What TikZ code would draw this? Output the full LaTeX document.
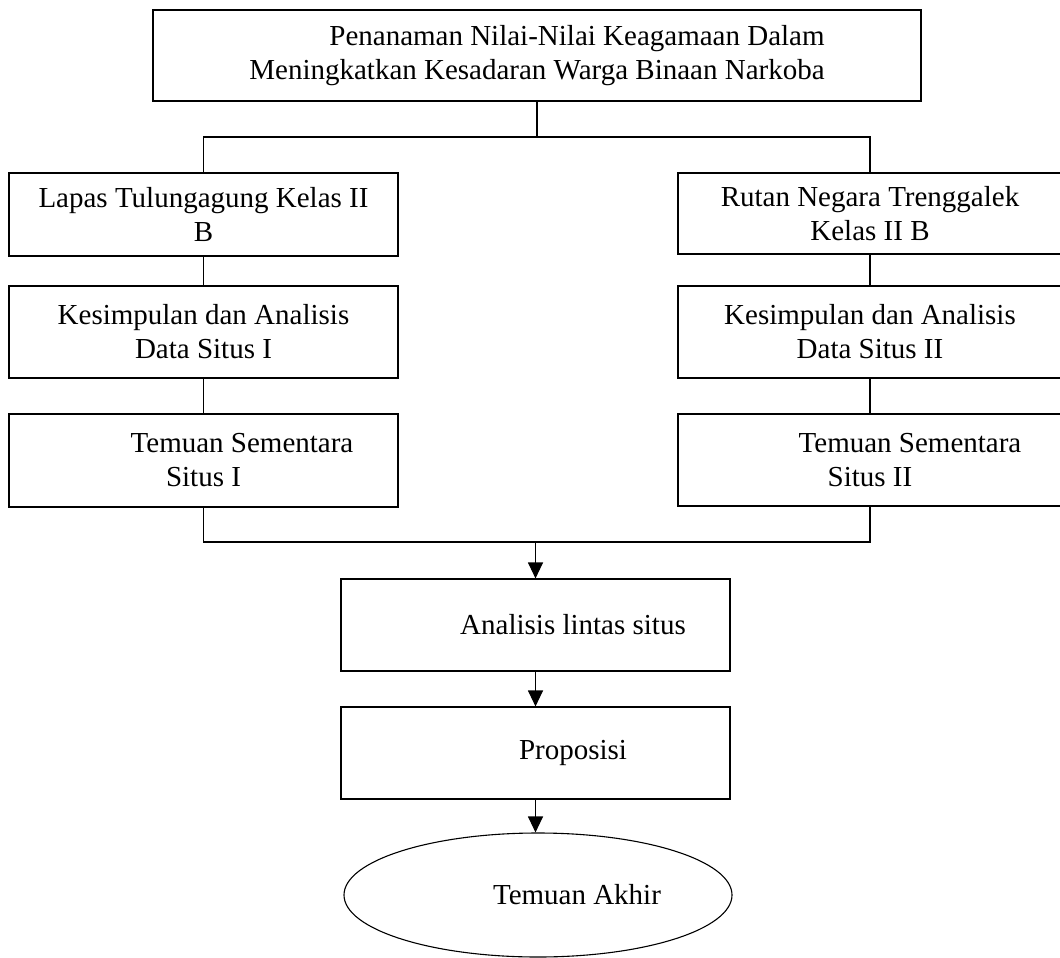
\documentclass[tikz,border=0pt]{standalone}
\usepackage{fontspec}
\setmainfont{Liberation Serif}
\usetikzlibrary{arrows.meta,shapes.geometric}
\begin{document}
\begin{tikzpicture}[x=1pt,y=-1pt,
  box/.style={draw,line width=1.1pt,inner sep=0pt,align=center,
    font=\fontsize{29}{34}\selectfont},
  oval/.style={draw,ellipse,line width=1.1pt,inner sep=0pt,
    font=\fontsize{29}{34}\selectfont},
  link/.style={line width=1.1pt},
  arr/.style={line width=1.1pt,-{Triangle[length=16pt,width=15pt]}}]
\useasboundingbox (0,0) rectangle (1060,958);
\node[box,minimum width=768pt,minimum height=91pt] (top) at (537,55.5)
  {\hspace*{80pt}Penanaman Nilai-Nilai Keagamaan Dalam\\Meningkatkan Kesadaran Warga Binaan Narkoba};
\node[box,minimum width=389pt,minimum height=83pt] (L1) at (203.5,214.5)
  {Lapas Tulungagung Kelas II\\B};
\node[box,minimum width=389pt,minimum height=92pt] (L2) at (203.5,332)
  {Kesimpulan dan Analisis\\Data Situs I};
\node[box,minimum width=389pt,minimum height=93pt] (L3) at (203.5,460.5)
  {\hspace*{77pt}Temuan Sementara\\Situs I};
\node[box,minimum width=384pt,minimum height=81pt] (R1) at (870,213.5)
  {Rutan Negara Trenggalek\\Kelas II B};
\node[box,minimum width=384pt,minimum height=92pt] (R2) at (870,332)
  {Kesimpulan dan Analisis\\Data Situs II};
\node[box,minimum width=384pt,minimum height=92pt] (R3) at (870,460)
  {\hspace*{80pt}Temuan Sementara\\Situs II};
\node[box,minimum width=389pt,minimum height=92pt] (A) at (535.5,625)
  {\hspace*{75pt}Analisis lintas situs};
\node[box,minimum width=389pt,minimum height=92pt] (P) at (535.5,753)
  {\hspace*{75pt}Proposisi};
\node[oval,minimum width=388pt,minimum height=124pt] (E) at (538,895)
  {\hspace*{78pt}Temuan Akhir};
\coordinate (jt) at (537,137);
\coordinate (jb) at (535.5,542);
\draw[link] (top.south) -- (jt);
\draw[link] (L1.north) |- (jt) -| (R1.north);
\draw[link] (L1.south) -- (L2.north);
\draw[link] (L2.south) -- (L3.north);
\draw[link] (R1.south) -- (R2.north);
\draw[link] (R2.south) -- (R3.north);
\draw[link] (L3.south) |- (jb) -| (R3.south);
\draw[arr] (jb) -- (A.north);
\draw[arr] (A.south) -- (P.north);
\draw[arr] (P.south) -- (P.south |- E.north);
\end{tikzpicture}
\end{document}
